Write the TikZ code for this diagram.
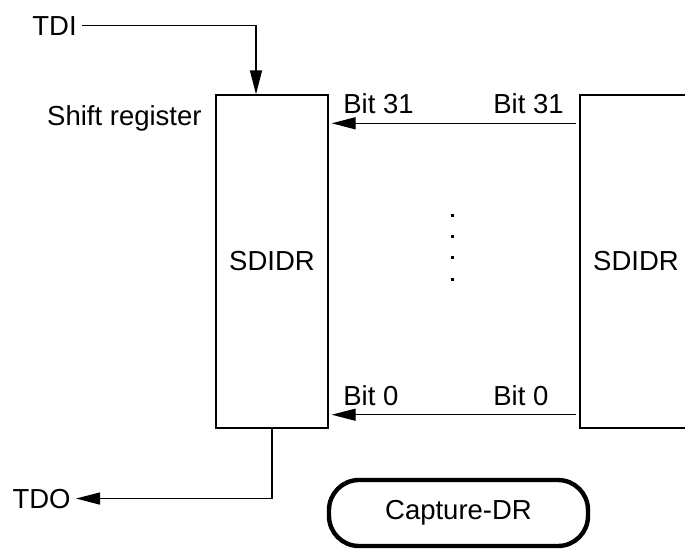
\documentclass[tikz,border=0pt]{standalone}
\usepackage{fontspec}
\setmainfont{Liberation Sans}
\usetikzlibrary{positioning,arrows.meta}

\begin{document}
\begin{tikzpicture}[
	x=0.5pt, y=-0.5pt,
	font=\fontsize{13.75pt}{16pt}\selectfont,
	>={Triangle[length=12pt,width=6pt]},
	reg/.style={draw, line width=0.7pt, minimum width=56pt, minimum height=166.5pt,
		inner sep=0pt},
	state/.style={draw, line width=2.2pt, rounded corners=15pt, minimum width=129.5pt,
		minimum height=33pt},
	lbl/.style={inner sep=2.5pt},
	flow/.style={->, line width=0.7pt},
]
\clip (0,0) rectangle (685,552);

% ---- registers ----
\node[reg] (sreg) at (272,261.5) {SDIDR};
\node[reg] (sdidr) at (636,261.5) {SDIDR};
\node[lbl, anchor=base east] (shift) at (207,125) {Shift register};

% ---- scan input / output ----
\node[lbl, anchor=base west] (tdi) at (27,35) {TDI};
\node[lbl, anchor=base east] (tdo) at (76,508) {TDO};
\draw[flow] (tdi.east) -| ([xshift=-8pt]sreg.north);
\draw[flow] (sreg.south) |- (tdo.east);

% ---- parallel bits ----
\node[lbl, anchor=base west] (b31l) at (338,113) {Bit 31};
\node[lbl, anchor=base west] (b31r) at (488,113) {Bit 31};
\node[lbl, anchor=base west] (b0l) at (338,405) {Bit 0};
\node[lbl, anchor=base west] (b0r) at (488,405) {Bit 0};
\draw[flow, shorten <=1.5pt, shorten >=1.5pt]
	([yshift=-14.5pt]sdidr.north west) -- ([yshift=-14.5pt]sreg.north east);
\draw[flow, shorten <=1.5pt, shorten >=1.5pt]
	([yshift=7pt]sdidr.south west) -- ([yshift=7pt]sreg.south east);
\foreach \y in {215,236.3,257.7,279}
	\fill (450.5,\y-1.5) rectangle +(3,3);

% ---- state ----
\node[state] (capdr) at (458.5,513) {Capture-DR};

\end{tikzpicture}
\end{document}
